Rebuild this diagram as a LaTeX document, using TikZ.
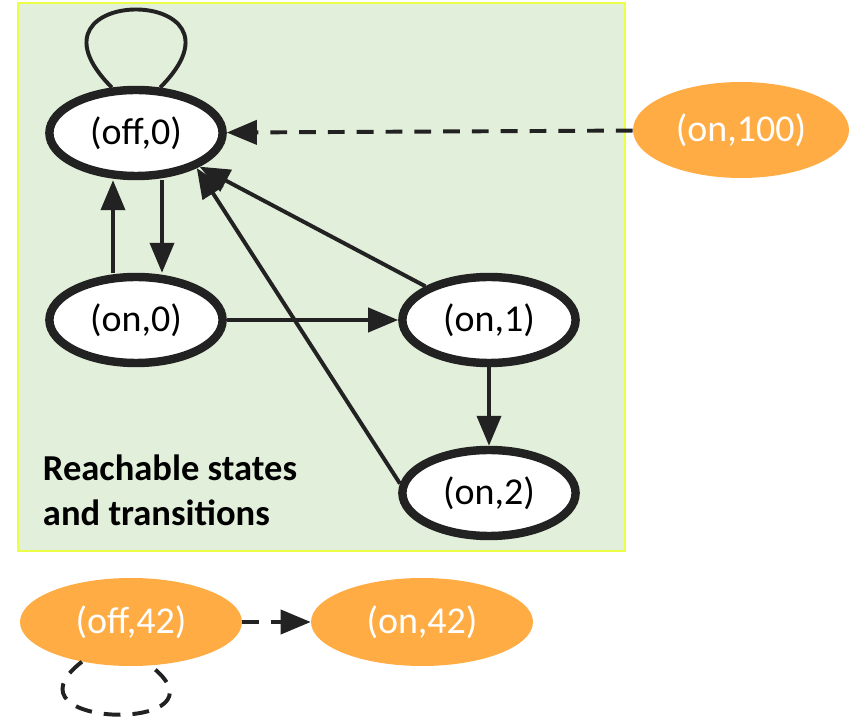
\documentclass[tikz,border=0pt]{standalone}
\usepackage{fontspec}
\setmainfont{Carlito}
\usetikzlibrary{arrows.meta,shapes.geometric}
\definecolor{reachgreen}{RGB}{226,239,218}
\definecolor{boxyellow}{RGB}{235,255,70}
\definecolor{ghostorange}{RGB}{255,172,68}
\definecolor{edgegray}{RGB}{34,34,34}

\begin{document}
\begin{tikzpicture}[
  reach/.style={ellipse,draw=edgegray,fill=white,line width=6pt,inner sep=0pt,
        minimum width=4.33cm,minimum height=2.15cm,font=\fontsize{27}{32}\selectfont},
  ghost/.style={ellipse,fill=ghostorange,text=white,inner sep=0pt,
        minimum width=5.5cm,minimum height=2.3cm,font=\fontsize{27}{32}\selectfont},
  trans/.style={-{Triangle[length=0.75cm,width=0.6cm]},edgegray,line width=2.8pt},
  ghosttrans/.style={trans,dash pattern=on 0.42cm off 0.3cm}
]
\useasboundingbox (0,0) rectangle (21.25,17.925);
% reachable region
\fill[reachgreen,draw=boxyellow,line width=1.2pt] (0.45,4.15) rectangle (15.625,17.85);
\node[reach] (off0) at (3.4,14.6) {(off,0)};
\node[reach] (on0) at (3.4,9.925) {(on,0)};
\node[reach] (on1) at (12.225,9.925) {(on,1)};
\node[reach] (on2) at (12.225,5.6) {(on,2)};
\node[anchor=west,align=left,font=\fontsize{26}{32}\bfseries\selectfont] (caption) at (0.95,5.675)
  {Reachable states\\and transitions};
% unreachable states
\node[ghost,minimum width=5.4cm,minimum height=2.4cm] (on100) at (18.525,14.675) {(on,100)};
\node[ghost,minimum width=5.55cm,minimum height=2.2cm] (off42) at (3.275,2.375) {(off,42)};
\node[ghost,minimum width=5.55cm,minimum height=2.2cm] (on42) at (10.55,2.375) {(on,42)};
% transitions
\draw[edgegray,line width=2.8pt] (off0.118) .. controls +(-2.6,2.6) and +(2.6,2.6) .. (off0.62);
\draw[trans] ([xshift=0.65cm]off0.south) -- ([xshift=0.65cm]on0.north);
\draw[trans] ([xshift=-0.575cm]on0.north) -- ([xshift=-0.575cm]off0.south);
\draw[trans] (on0) -- (on1);
\draw[trans] (on1) -- (off0);
\draw[trans] (on1) -- (on2);
\draw[trans] (on2.174) -- (off0.-30);
\draw[ghosttrans] (on100) -- (off0);
\draw[ghosttrans] (off42) -- (on42);
\draw[edgegray,line width=2.8pt,dash pattern=on 0.42cm off 0.3cm]
  (off42.219) .. controls +(-2.2,-1.7) and +(2.2,-1.7) .. (off42.294);
\end{tikzpicture}
\end{document}
